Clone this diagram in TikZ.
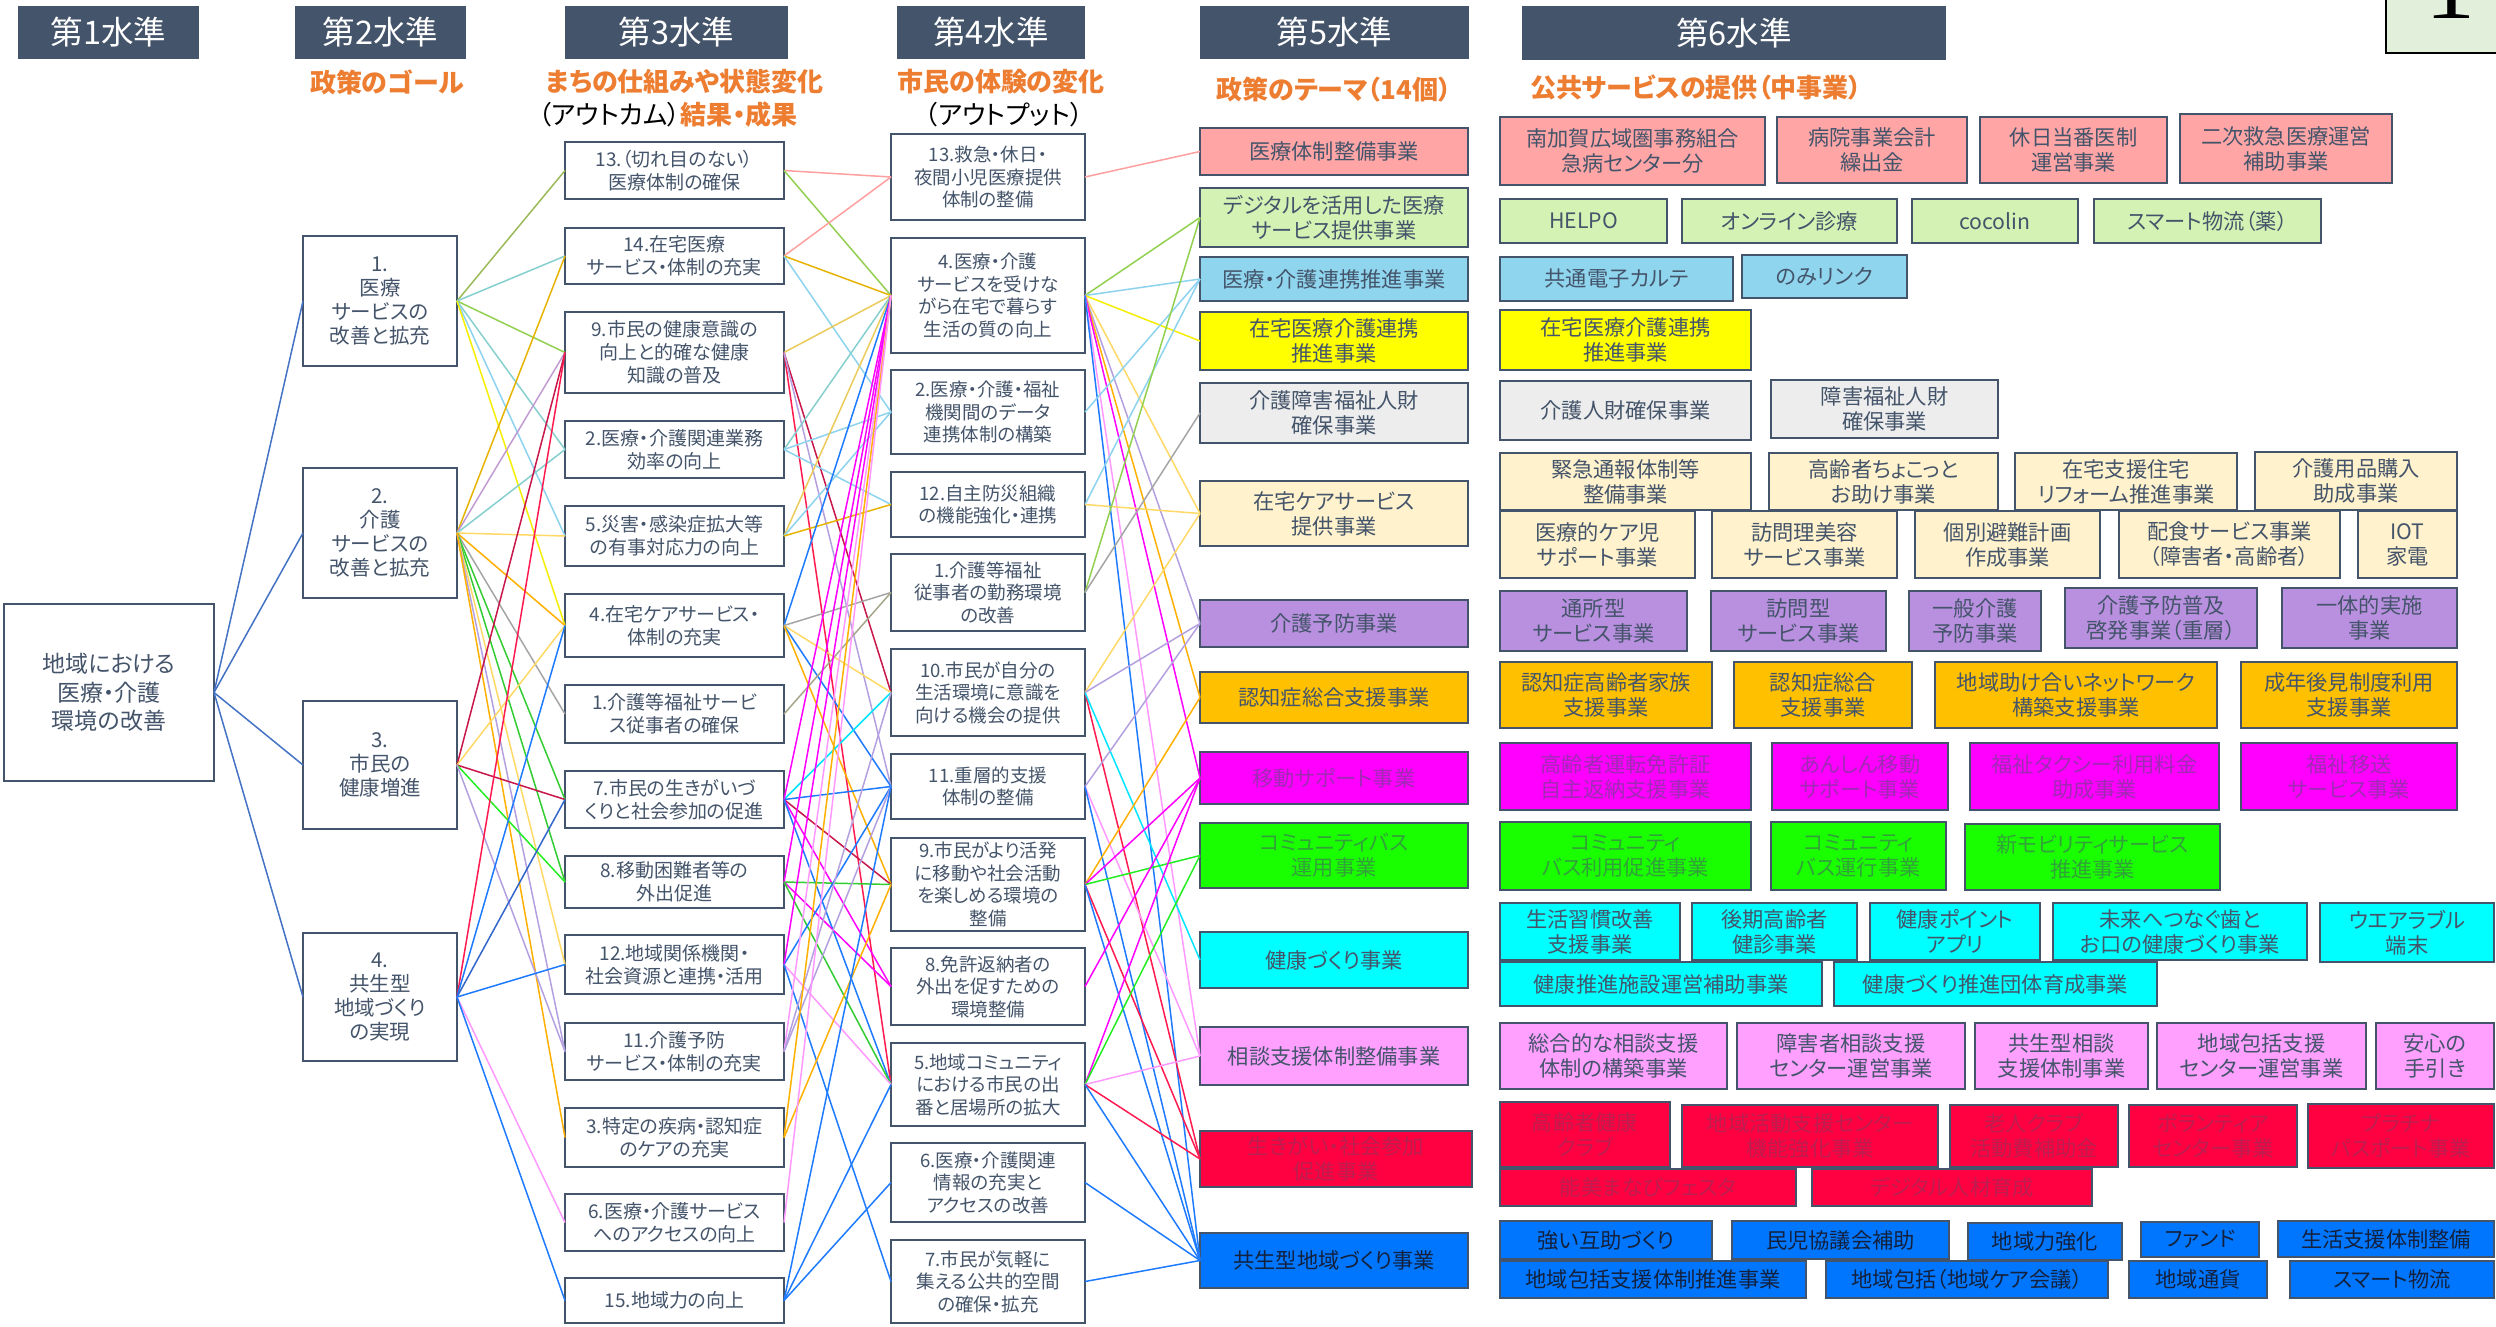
\documentclass[tikz,border=0pt]{standalone}
\usepackage{fontspec}
\setmainfont[RawFeature={+palt}]{Noto Sans CJK JP}
\newfontfamily\serifone{Liberation Serif}
\definecolor{slate}{HTML}{44546A}
\definecolor{orng}{HTML}{ED7D31}
\definecolor{cornergreen}{HTML}{E2EFDA}
\definecolor{f1}{HTML}{FFA5A5}
\definecolor{f2}{HTML}{D4F2B4}
\definecolor{f3}{HTML}{8FD5EE}
\definecolor{f4}{HTML}{FFFF00}
\definecolor{f5}{HTML}{EDEDED}
\definecolor{f6}{HTML}{FFF2CC}
\definecolor{f7}{HTML}{B990DF}
\definecolor{f8}{HTML}{FFC000}
\definecolor{f9}{HTML}{FF00FF}
\definecolor{f10}{HTML}{1AFF00}
\definecolor{f11}{HTML}{00FFFF}
\definecolor{f12}{HTML}{FFA0FF}
\definecolor{f13}{HTML}{FF0040}
\definecolor{f14}{HTML}{0076FF}
\definecolor{t14}{HTML}{14213D}
\definecolor{cBlueA}{HTML}{4472C4}
\definecolor{cOlive}{HTML}{9BBB59}
\definecolor{cTeal}{HTML}{86CFCF}
\definecolor{cLGreen}{HTML}{92D050}
\definecolor{cSky}{HTML}{8DD3EF}
\definecolor{cYellow}{HTML}{F5EE00}
\definecolor{cGold}{HTML}{E6B400}
\definecolor{cGold2}{HTML}{EBCB5A}
\definecolor{cMauve}{HTML}{C39BD3}
\definecolor{cPeach}{HTML}{FFD966}
\definecolor{cOrange}{HTML}{FFB000}
\definecolor{cGray}{HTML}{A5A5A5}
\definecolor{cOliveGray}{HTML}{A6A68A}
\definecolor{cGreen}{HTML}{33CC33}
\definecolor{cBGreen}{HTML}{22EE22}
\definecolor{cLav}{HTML}{B4A0E0}
\definecolor{cCrimson}{HTML}{C8174A}
\definecolor{cRed}{HTML}{FF1A4F}
\definecolor{cBlue}{HTML}{1E7BFF}
\definecolor{cDBlue}{HTML}{3366CC}
\definecolor{cPink}{HTML}{FF99FF}
\definecolor{cSalmon}{HTML}{FF9F9F}
\definecolor{cMag}{HTML}{FF00FF}
\definecolor{cCyan}{HTML}{00E5FF}
\newcommand\bx[7]{\node[#1, minimum width={(#5-#3)*0.4pt}, minimum height={(#6-#4)*0.4pt}] (#2) at ({(#3+#5)/2},{(#4+#6)/2}) {#7};}
\begin{document}
\begin{tikzpicture}[x=0.4pt,y=-0.4pt,
  box/.style={draw=slate, line width=1pt, fill=white, text=slate, align=center, inner sep=0pt, outer sep=0pt},
  hdr/.style={fill=slate, text=white, inner sep=0pt, font=\fontsize{13}{15}\selectfont},
  subt/.style={text=orng, inner sep=0pt, font=\fontsize{10.4}{12}\selectfont\bfseries},
  lone/.style={box, font=\fontsize{9.2}{11.5}\selectfont},
  ltwo/.style={box, font=\fontsize{8.2}{9.5}\selectfont},
  lthree/.style={box, font=\fontsize{7.6}{9.3}\selectfont},
  lfour/.style={box, font=\fontsize{7.4}{9}\selectfont},
  cell/.style={draw=slate, line width=0.8pt, align=center, inner sep=0pt, outer sep=0pt, font=\fontsize{8.5}{10}\selectfont},
  r1/.style={cell, fill=f1, text=slate}, r2/.style={cell, fill=f2, text=slate},
  r3/.style={cell, fill=f3, text=slate}, r4/.style={cell, fill=f4, text=slate},
  r5/.style={cell, fill=f5, text=slate}, r6/.style={cell, fill=f6, text=slate},
  r7/.style={cell, fill=f7, text=slate}, r8/.style={cell, fill=f8, text=slate},
  r9/.style={cell, fill=f9, text=f9!50!slate}, r10/.style={cell, fill=f10, text=f10!45!slate},
  r11/.style={cell, fill=f11, text=slate}, r12/.style={cell, fill=f12, text=slate},
  r13/.style={cell, fill=f13, text=f13!65!slate}, r14/.style={cell, fill=f14, text=t14},
  conn/.style={line width=0.6pt}]
\useasboundingbox (0,0) rectangle (2496,1326);
\fill[white] (0,0) rectangle (2496,1326);
% corner box
\filldraw[fill=cornergreen, draw=black, line width=0.8pt] (2386,-10) rectangle (2520,53);
\node[anchor=base, inner sep=0pt, font=\fontsize{40}{40}\selectfont\serifone] (one) at (2450,18) {1};
% headers
\bx{hdr}{h1}{18}{6}{199}{59}{第1水準}
\bx{hdr}{h2}{295}{6}{466}{59}{第2水準}
\bx{hdr}{h3}{565}{6}{788}{59}{第3水準}
\bx{hdr}{h4}{897}{6}{1085}{59}{第4水準}
\bx{hdr}{h5}{1200}{6}{1469}{59}{第5水準}
\bx{hdr}{h6}{1522}{6}{1946}{60}{第6水準}
% subtitles
\node[subt] (s2) at (387,82) {政策のゴール};
\node[subt] (s3) at (685,82) {まちの仕組みや状態変化};
\node[subt] (s3b) at (668,115) {{\mdseries\textcolor{black}{（アウトカム）}}結果・成果};
\node[subt] (s4) at (1001,82) {市民の体験の変化};
\node[subt, text=black, font=\fontsize{10.4}{12}\selectfont] (s4b) at (1004,115) {（アウトプット）};
\node[subt] (s5) at (1334,90) {政策のテーマ（14個）};
\node[subt] (s6) at (1696,87) {公共サービスの提供（中事業）};
% level 1
\bx{lone}{root}{4}{604}{214}{781}{地域における\\医療・介護\\環境の改善}
% level 2
\bx{ltwo}{g1}{303}{236}{457}{366}{1.\\医療\\サービスの\\改善と拡充}
\bx{ltwo}{g2}{303}{468}{457}{598}{2.\\介護\\サービスの\\改善と拡充}
\bx{ltwo}{g3}{303}{701}{457}{829}{3.\\市民の\\健康増進}
\bx{ltwo}{g4}{303}{933}{457}{1061}{4.\\共生型\\地域づくり\\の実現}
% level 3
\bx{lthree}{o13}{565}{142}{784}{199}{13.（切れ目のない）\\医療体制の確保}
\bx{lthree}{o14}{565}{228}{784}{284}{14.在宅医療\\サービス・体制の充実}
\bx{lthree}{o9}{565}{312}{784}{393}{9.市民の健康意識の\\向上と的確な健康\\知識の普及}
\bx{lthree}{o2}{565}{421}{784}{478}{2.医療・介護関連業務\\効率の向上}
\bx{lthree}{o5}{565}{506}{784}{566}{5.災害・感染症拡大等\\の有事対応力の向上}
\bx{lthree}{o4}{565}{594}{784}{657}{4.在宅ケアサービス・\\体制の充実}
\bx{lthree}{o1}{565}{685}{784}{743}{1.介護等福祉サービ\\ス従事者の確保}
\bx{lthree}{o7}{565}{771}{784}{828}{7.市民の生きがいづ\\くりと社会参加の促進}
\bx{lthree}{o8}{565}{856}{784}{908}{8.移動困難者等の\\外出促進}
\bx{lthree}{o12}{565}{935}{784}{994}{12.地域関係機関・\\社会資源と連携・活用}
\bx{lthree}{o11}{565}{1023}{784}{1080}{11.介護予防\\サービス・体制の充実}
\bx{lthree}{o3}{565}{1108}{784}{1167}{3.特定の疾病・認知症\\のケアの充実}
\bx{lthree}{o6}{565}{1194}{784}{1251}{6.医療・介護サービス\\へのアクセスの向上}
\bx{lthree}{o15}{565}{1278}{784}{1323}{15.地域力の向上}
% level 4
\bx{lfour}{p13}{891}{134}{1085}{220}{13.救急・休日・\\夜間小児医療提供\\体制の整備}
\bx{lfour}{p4}{891}{238}{1085}{353}{4.医療・介護\\サービスを受けな\\がら在宅で暮らす\\生活の質の向上}
\bx{lfour}{p2}{891}{370}{1085}{454}{2.医療・介護・福祉\\機関間のデータ\\連携体制の構築}
\bx{lfour}{p12}{891}{472}{1085}{537}{12.自主防災組織\\の機能強化・連携}
\bx{lfour}{p1}{891}{554}{1085}{631}{1.介護等福祉\\従事者の勤務環境\\の改善}
\bx{lfour}{p10}{891}{649}{1085}{736}{10.市民が自分の\\生活環境に意識を\\向ける機会の提供}
\bx{lfour}{p11}{891}{754}{1085}{819}{11.重層的支援\\体制の整備}
\bx{lfour}{p9}{891}{838}{1085}{931}{9.市民がより活発\\に移動や社会活動\\を楽しめる環境の\\整備}
\bx{lfour}{p8}{891}{948}{1085}{1025}{8.免許返納者の\\外出を促すための\\環境整備}
\bx{lfour}{p5}{891}{1043}{1085}{1126}{5.地域コミュニティ\\における市民の出\\番と居場所の拡大}
\bx{lfour}{p6}{891}{1143}{1085}{1222}{6.医療・介護関連\\情報の充実と\\アクセスの改善}
\bx{lfour}{p7}{891}{1240}{1085}{1323}{7.市民が気軽に\\集える公共的空間\\の確保・拡充}
% level 5
\bx{r1}{t1}{1200}{128}{1468}{175}{医療体制整備事業}
\bx{r2}{t2}{1200}{188}{1468}{247}{デジタルを活用した医療\\サービス提供事業}
\bx{r3}{t3}{1200}{257}{1468}{301}{医療・介護連携推進事業}
\bx{r4}{t4}{1200}{312}{1468}{370}{在宅医療介護連携\\推進事業}
\bx{r5}{t5}{1200}{383}{1468}{443}{介護障害福祉人財\\確保事業}
\bx{r6}{t6}{1200}{481}{1468}{546}{在宅ケアサービス\\提供事業}
\bx{r7}{t7}{1200}{600}{1468}{647}{介護予防事業}
\bx{r8}{t8}{1200}{672}{1468}{723}{認知症総合支援事業}
\bx{r9}{t9}{1200}{752}{1468}{804}{移動サポート事業}
\bx{r10}{t10}{1200}{823}{1468}{888}{コミュニティバス\\運用事業}
\bx{r11}{t11}{1200}{932}{1468}{988}{健康づくり事業}
\bx{r12}{t12}{1200}{1027}{1468}{1085}{相談支援体制整備事業}
\bx{r13}{t13}{1200}{1131}{1472}{1187}{生きがい・社会参加\\促進事業}
\bx{r14}{t14}{1200}{1233}{1468}{1288}{共生型地域づくり事業}
% level 6
\bx{r1}{a1}{1500}{117}{1765}{185}{南加賀広域圏事務組合\\急病センター分}
\bx{r1}{a2}{1777}{117}{1967}{183}{病院事業会計\\繰出金}
\bx{r1}{a3}{1980}{117}{2167}{183}{休日当番医制\\運営事業}
\bx{r1}{a4}{2180}{114}{2392}{183}{二次救急医療運営\\補助事業}
\bx{r2}{b1}{1500}{199}{1667}{243}{HELPO}
\bx{r2}{b2}{1682}{199}{1897}{243}{オンライン診療}
\bx{r2}{b3}{1912}{199}{2078}{243}{cocolin}
\bx{r2}{b4}{2094}{199}{2321}{243}{スマート物流（薬）}
\bx{r3}{c1}{1500}{257}{1733}{301}{共通電子カルテ}
\bx{r3}{c2}{1742}{255}{1907}{298}{のみリンク}
\bx{r4}{d1}{1500}{310}{1751}{370}{在宅医療介護連携\\推進事業}
\bx{r5}{e1}{1500}{381}{1751}{440}{介護人財確保事業}
\bx{r5}{e2}{1771}{380}{1998}{438}{障害福祉人財\\確保事業}
\bx{r6}{f1n}{1500}{453}{1751}{510}{緊急通報体制等\\整備事業}
\bx{r6}{f2n}{1769}{453}{1998}{510}{高齢者ちょこっと\\お助け事業}
\bx{r6}{f3n}{2015}{453}{2237}{510}{在宅支援住宅\\リフォーム推進事業}
\bx{r6}{f4n}{2255}{452}{2457}{510}{介護用品購入\\助成事業}
\bx{r6}{f5n}{1500}{511}{1695}{578}{医療的ケア児\\サポート事業}
\bx{r6}{f6n}{1712}{511}{1897}{578}{訪問理美容\\サービス事業}
\bx{r6}{f7n}{1915}{511}{2100}{578}{個別避難計画\\作成事業}
\bx{r6}{f8n}{2119}{511}{2340}{578}{配食サービス事業\\（障害者・高齢者）}
\bx{r6}{f9n}{2358}{511}{2457}{578}{IOT\\家電}
\bx{r7}{g1n}{1500}{591}{1687}{651}{通所型\\サービス事業}
\bx{r7}{g2n}{1711}{591}{1886}{651}{訪問型\\サービス事業}
\bx{r7}{g3n}{1909}{591}{2041}{651}{一般介護\\予防事業}
\bx{r7}{g4n}{2065}{588}{2257}{648}{介護予防普及\\啓発事業（重層）}
\bx{r7}{g5n}{2282}{588}{2457}{648}{一体的実施\\事業}
\bx{r8}{h1n}{1500}{662}{1712}{728}{認知症高齢者家族\\支援事業}
\bx{r8}{h2n}{1734}{662}{1912}{728}{認知症総合\\支援事業}
\bx{r8}{h3n}{1935}{662}{2217}{728}{地域助け合いネットワーク\\構築支援事業}
\bx{r8}{h4n}{2241}{662}{2457}{728}{成年後見制度利用\\支援事業}
\bx{r9}{i1}{1500}{743}{1751}{810}{高齢者運転免許証\\自主返納支援事業}
\bx{r9}{i2}{1772}{743}{1948}{810}{あんしん移動\\サポート事業}
\bx{r9}{i3}{1970}{743}{2219}{810}{福祉タクシー利用料金\\助成事業}
\bx{r9}{i4}{2241}{743}{2457}{810}{福祉移送\\サービス事業}
\bx{r10}{j1}{1500}{822}{1751}{890}{コミュニティ\\バス利用促進事業}
\bx{r10}{j2}{1771}{822}{1946}{890}{コミュニティ\\バス運行事業}
\bx{r10}{j3}{1965}{824}{2220}{890}{新モビリティサービス\\推進事業}
\bx{r11}{k1}{1500}{903}{1680}{960}{生活習慣改善\\支援事業}
\bx{r11}{k2}{1692}{903}{1857}{960}{後期高齢者\\健診事業}
\bx{r11}{k3}{1870}{903}{2040}{960}{健康ポイント\\アプリ}
\bx{r11}{k4}{2053}{903}{2307}{960}{未来へつなぐ歯と\\お口の健康づくり事業}
\bx{r11}{k5}{2320}{903}{2494}{962}{ウエアラブル\\端末}
\bx{r11}{k6}{1500}{962}{1822}{1006}{健康推進施設運営補助事業}
\bx{r11}{k7}{1834}{962}{2157}{1006}{健康づくり推進団体育成事業}
\bx{r12}{m1}{1500}{1023}{1727}{1089}{総合的な相談支援\\体制の構築事業}
\bx{r12}{m2}{1737}{1023}{1965}{1089}{障害者相談支援\\センター運営事業}
\bx{r12}{m3}{1975}{1023}{2148}{1089}{共生型相談\\支援体制事業}
\bx{r12}{m4}{2157}{1023}{2366}{1089}{地域包括支援\\センター運営事業}
\bx{r12}{m5}{2376}{1023}{2494}{1089}{安心の\\手引き}
\bx{r13}{n1}{1500}{1102}{1670}{1167}{高齢者健康\\クラブ}
\bx{r13}{n2}{1682}{1105}{1938}{1167}{地域活動支援センター\\機能強化事業}
\bx{r13}{n3}{1950}{1105}{2118}{1167}{老人クラブ\\活動費補助金}
\bx{r13}{n4}{2129}{1105}{2297}{1167}{ボランティア\\センター事業}
\bx{r13}{n5}{2308}{1104}{2494}{1168}{プラチナ\\パスポート事業}
\bx{r13}{n6}{1500}{1169}{1796}{1206}{能美まなびフェスタ}
\bx{r13}{n7}{1812}{1169}{2092}{1206}{デジタル人材育成}
\bx{r14}{q1}{1500}{1221}{1712}{1259}{強い互助づくり}
\bx{r14}{q2}{1732}{1221}{1949}{1259}{民児協議会補助}
\bx{r14}{q3}{1968}{1223}{2122}{1260}{地域力強化}
\bx{r14}{q4}{2141}{1222}{2259}{1257}{ファンド}
\bx{r14}{q5}{2278}{1221}{2494}{1257}{生活支援体制整備}
\bx{r14}{q6}{1500}{1261}{1806}{1298}{地域包括支援体制推進事業}
\bx{r14}{q7}{1826}{1261}{2108}{1298}{地域包括（地域ケア会議）}
\bx{r14}{q8}{2129}{1261}{2267}{1298}{地域通貨}
\bx{r14}{q9}{2290}{1261}{2494}{1298}{スマート物流}
% connectors level 1 -> 2
\foreach \b in {g1,g2,g3,g4} \draw[conn, cBlueA] (root.east) -- (\b.west);
% level 2 -> 3
\foreach \a/\b/\c in {g1/o13/cOlive, g1/o14/cTeal, g1/o9/cLGreen, g1/o2/cTeal, g1/o5/cSky, g1/o4/cYellow,
  g2/o14/cGold, g2/o9/cMauve, g2/o2/cTeal, g2/o5/cPeach, g2/o4/cOrange, g2/o1/cGray, g2/o7/cGreen, g2/o8/cGreen, g2/o12/cPeach, g2/o11/cLav, g2/o3/cOrange,
  g3/o9/cCrimson, g3/o4/cPeach, g3/o7/cCrimson, g3/o8/cBGreen, g3/o11/cLav,
  g4/o9/cRed, g4/o4/cBlue, g4/o7/cDBlue, g4/o12/cBlue, g4/o6/cPink, g4/o15/cBlue}
  \draw[conn, \c] (\a.east) -- (\b.west);
% level 3 -> 4
\foreach \a/\b/\c in {o13/p13/cSalmon, o13/p4/cLGreen,
  o14/p13/cSalmon, o14/p4/cGold, o14/p2/cSky,
  o9/p4/cGold2, o9/p10/cCrimson, o9/p5/cRed, o9/p11/cLav,
  o2/p4/cTeal, o2/p2/cSky, o2/p12/cSky,
  o5/p4/cGold2, o5/p2/cSky, o5/p12/cGold,
  o4/p4/cBlue, o4/p1/cGray, o4/p10/cPeach, o4/p11/cBlue, o4/p9/cOrange,
  o1/p1/cOliveGray,
  o7/p10/cCyan, o7/p11/cBlue, o7/p9/cCrimson, o7/p4/cMag, o7/p8/cMag, o7/p5/cBlue,
  o8/p4/cMag, o8/p9/cGreen, o8/p8/cMag, o8/p5/cGreen,
  o12/p11/cBlue, o12/p4/cMag, o12/p5/cPink, o12/p7/cBlue,
  o11/p4/cPink, o11/p10/cLav, o11/p11/cLav,
  o3/p4/cOrange, o3/p9/cOrange,
  o6/p4/cPink,
  o15/p5/cBlue, o15/p6/cBlue, o15/p11/cBlue}
  \draw[conn, \c] (\a.east) -- (\b.west);
% level 4 -> 5
\foreach \a/\b/\c in {p13/t1/cSalmon,
  p4/t2/cLGreen, p4/t3/cSky, p4/t4/cYellow, p4/t6/cPeach, p4/t7/cLav, p4/t8/cOrange, p4/t9/cMag, p4/t12/cPink, p4/t14/cBlue,
  p2/t3/cSky,
  p12/t3/cSky, p12/t6/cPeach,
  p1/t2/cLGreen, p1/t5/cGray,
  p10/t6/cPeach, p10/t7/cLav, p10/t13/cRed, p10/t11/cCyan,
  p11/t7/cLav, p11/t12/cPink, p11/t14/cBlue,
  p9/t8/cOrange, p9/t9/cMag, p9/t10/cBGreen, p9/t13/cRed, p9/t14/cBlue,
  p8/t9/cMag,
  p5/t9/cMag, p5/t10/cBGreen, p5/t12/cPink, p5/t13/cRed, p5/t14/cBlue,
  p6/t14/cBlue,
  p7/t14/cBlue}
  \draw[conn, \c] (\a.east) -- (\b.west);
\end{tikzpicture}
\end{document}
